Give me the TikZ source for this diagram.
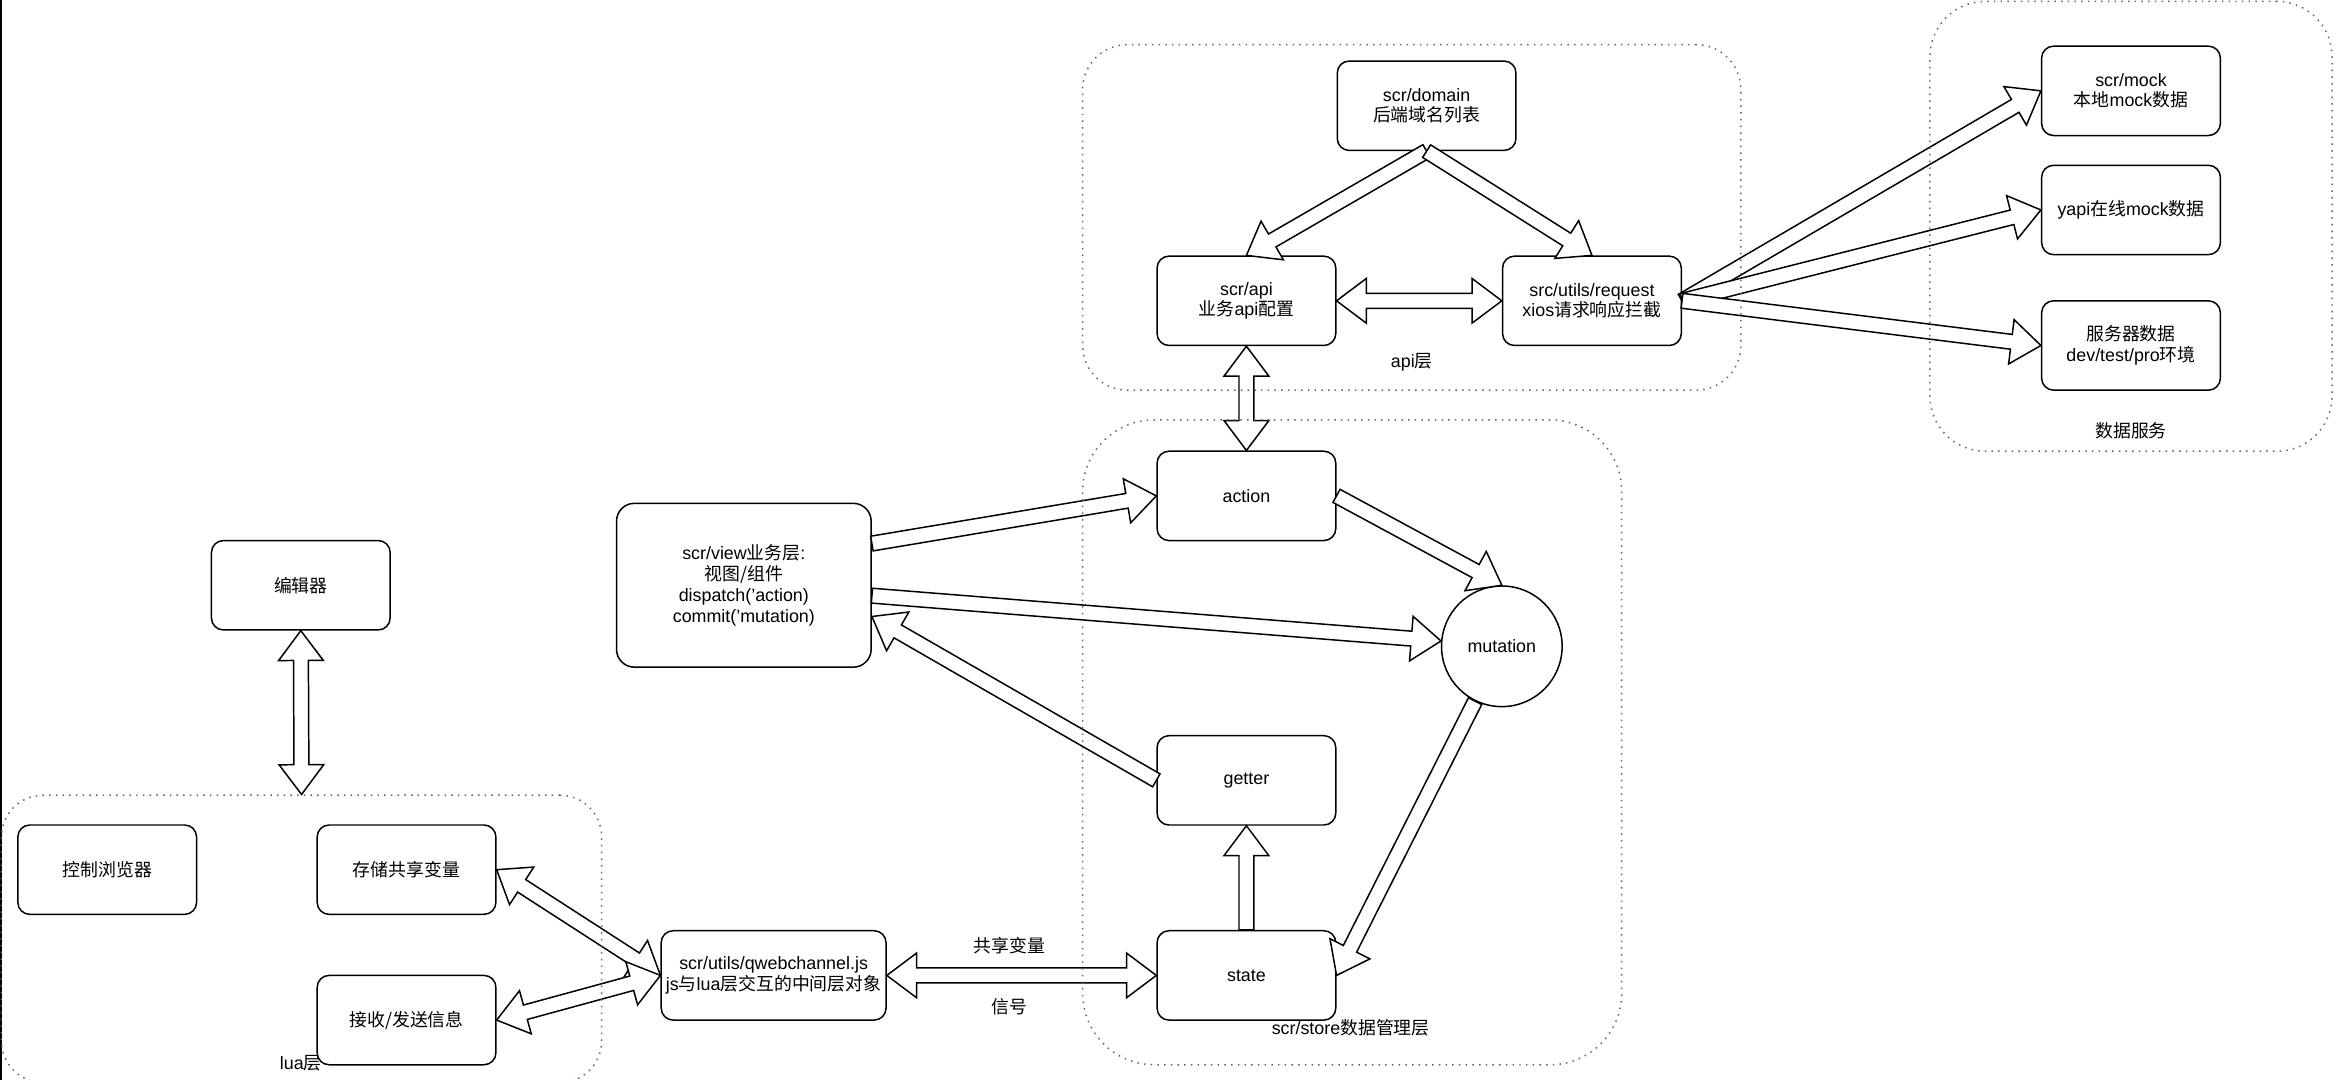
\documentclass[tikz,border=0pt]{standalone}
\usepackage{fontspec}
\setmainfont{Liberation Sans}
\newfontfamily\cjk{Noto Sans CJK SC}
\newcommand\zh[1]{{\cjk #1}}
\usetikzlibrary{calc}
% single block arrow: #1 from, #2 to
\newcommand\flexarrow[2]{%
  \path ($(#2)!20pt!(#1)$) coordinate (fa-h);
  \draw[flex] ($(#1)!5pt!90:(#2)$) -- ($(fa-h)!5pt!90:(#2)$) -- ($(fa-h)!15pt!90:(#2)$) -- (#2)
    -- ($(fa-h)!15pt!-90:(#2)$) -- ($(fa-h)!5pt!-90:(#2)$) -- ($(#1)!5pt!-90:(#2)$) -- cycle;}
% double block arrow
\newcommand\flexdouble[2]{%
  \path ($(#1)!20pt!(#2)$) coordinate (fd-a) ($(#2)!20pt!(#1)$) coordinate (fd-b);
  \draw[flex] (#1) -- ($(fd-a)!15pt!90:(#2)$) -- ($(fd-a)!5pt!90:(#2)$) -- ($(fd-b)!5pt!90:(#2)$)
    -- ($(fd-b)!15pt!90:(#2)$) -- (#2) -- ($(fd-b)!15pt!-90:(#2)$) -- ($(fd-b)!5pt!-90:(#2)$)
    -- ($(fd-a)!5pt!-90:(#2)$) -- ($(fd-a)!15pt!-90:(#2)$) -- cycle;}
\begin{document}
\begin{tikzpicture}[x=1pt,y=-1pt,
  every node/.style={font=\fontsize{12}{14}\selectfont, align=center},
  box/.style={draw, line width=1pt, fill=white, rounded corners=8pt, minimum width=120pt, minimum height=60pt, inner sep=1pt},
  flex/.style={draw, line width=1pt, fill=white, line join=miter},
  container/.style={draw=black!60, line width=1pt, dash pattern=on 1pt off 3.5pt, minimum width=0pt, inner sep=0pt},
  plain/.style={inner sep=1pt}]
\useasboundingbox (0,0) rectangle (1568,725);
\draw[line width=1.5pt] (0.75,0) -- (0.75,725);

% container and edge labels
\node[plain] (lapi) at (948,243) {api\zh{层}};
\node[plain] (ldata) at (1431,289) {\zh{数据服务}};
\node[plain] (lstore) at (907,690) {scr/store\zh{数据管理层}};
\node[plain] (llua) at (202,714) {lua\zh{层}};
\node[plain] (lshare) at (678,635) {\zh{共享变量}};
\node[plain] (lsig) at (678,676) {\zh{信号}};

% boxes
\node[box] (domain) at (958,71) {scr/domain\\\zh{后端域名列表}};
\node[box] (api) at (837,202) {scr/api\\\zh{业务}api\zh{配置}};
\node[box] (req) at (1069,202) {src/utils/request\\xios\zh{请求响应拦截}};
\node[box] (mock) at (1431,61) {scr/mock\\\zh{本地}mock\zh{数据}};
\node[box] (yapi) at (1431,141) {yapi\zh{在线}mock\zh{数据}};
\node[box] (server) at (1431,232) {\zh{服务器数据}\\dev/test/pro\zh{环境}};
\node[box] (action) at (837,333) {action};
\node[draw, line width=1pt, fill=white, circle, minimum size=81pt, inner sep=0pt] (mut) at (1008.5,434) {mutation};
\node[box, minimum width=171pt, minimum height=110pt, rounded corners=12pt] (view) at (499.5,393) {scr/view\zh{业务层}:\\\zh{视图/组件}\\dispatch('action)\\commit('mutation)};
\node[box] (getter) at (837,524) {getter};
\node[box] (state) at (837,655) {state};
\node[box, minimum width=151pt] (qweb) at (519.5,655) {scr/utils/qwebchannel.js\\js\zh{与}lua\zh{层交互的中间层对象}};
\node[box] (editor) at (202,393) {\zh{编辑器}};
\node[box] (browser) at (72,584) {\zh{控制浏览器}};
\node[box] (store) at (273,584) {\zh{存储共享变量}};
\node[box] (recv) at (273,685) {\zh{接收/发送信息}};

% connector end points on the view box
\coordinate (v1) at ($(view.east)+(0,-28)$);
\coordinate (v2) at ($(view.east)+(0,7)$);
\coordinate (v3) at ($(view.east)+(0,21)$);

% arrows
\flexarrow{domain.south}{api.north}
\flexarrow{domain.south}{req.north}
\flexdouble{api.east}{req.west}
\flexarrow{req.east}{mock.west}
\flexarrow{req.east}{yapi.west}
\flexarrow{req.east}{server.west}
\flexdouble{api.south}{action.north}
\flexarrow{v1}{action.west}
\flexarrow{v2}{mut.175}
\flexarrow{getter.west}{v3}
\flexarrow{action.east}{mut.north}
\flexarrow{mut.-116}{state.east}
\flexarrow{state.north}{getter.south}
\flexdouble{qweb.east}{state.west}
\flexdouble{qweb.west}{store.east}
\flexdouble{qweb.west}{recv.east}

% containers
\node[container, rounded corners=30pt, minimum width=442pt, minimum height=232pt] (capi) at (948,146) {};
\node[container, rounded corners=37pt, minimum width=270pt, minimum height=302pt] (cdata) at (1431,152) {};
\node[container, rounded corners=48pt, minimum width=362pt, minimum height=433pt] (cstore) at (908,498.5) {};
\node[container, rounded corners=28pt, minimum width=403pt, minimum height=193pt] (clua) at (202.5,630.5) {};

\flexdouble{editor.south}{clua.north}
\end{tikzpicture}
\end{document}
